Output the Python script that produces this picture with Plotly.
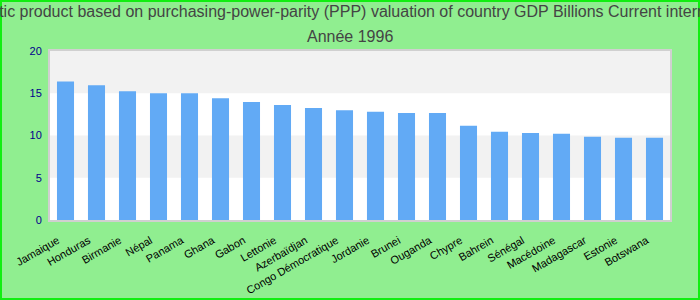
import plotly.graph_objects as go

countries = ["Jamaique", "Honduras", "Birmanie", "Népal", "Panama", "Ghana", "Gabon",
             "Lettonie", "Azerbaïdjan", "Congo Démocratique", "Jordanie", "Brunei",
             "Ouganda", "Chypre", "Bahrein", "Sénégal", "Macédoine", "Madagascar",
             "Estonie", "Botswana"]
values = [16.4, 15.95, 15.25, 15.0, 15.0, 14.4, 13.95, 13.6, 13.25, 13.0, 12.8, 12.66,
          12.66, 11.15, 10.43, 10.3, 10.2, 9.85, 9.73, 9.73]
y_ticks = [0, 5, 10, 15, 20]
title_line1 = ("Gross domestic product based on purchasing-power-parity (PPP) valuation of "
               "country GDP Billions Current international dollar")
title_line2 = "Année 1996"

L, R, T, B = 50, 30, 51, 80
W, H = 700, 300
pw, ph = W - L - R, H - T - B

fig = go.Figure(go.Bar(x=countries, y=values, marker_color="#62aaf5",
                       marker_line_width=0))

shapes = []
for lo, hi in [(5, 10), (15, 20)]:
    shapes.append(dict(type="rect", xref="paper", yref="y", x0=0, x1=1, y0=lo, y1=hi,
                       fillcolor="#f2f2f2", line_width=0, layer="below"))
shapes.append(dict(type="rect", xref="paper", yref="paper",
                   x0=-(L - 1) / pw, x1=(W - L - 1) / pw,
                   y0=-(B - 1) / ph, y1=(H - B - 1) / ph,
                   line=dict(color="#11ee11", width=2), fillcolor="rgba(0,0,0,0)"))

title_font = dict(family="Liberation Sans, Arial", size=16, color="#444444")
cx = (W / 2 - L) / pw
annotations = [
    dict(text=title_line1, xref="paper", yref="paper", x=cx,
         y=(H - B - 12) / ph, xanchor="center", yanchor="middle", showarrow=False,
         font=title_font),
    dict(text=title_line2, xref="paper", yref="paper", x=cx,
         y=(H - B - 36) / ph, xanchor="center", yanchor="middle", showarrow=False,
         font=title_font),
]

fig.update_layout(
    width=W, height=H,
    margin=dict(l=L, r=R, t=T, b=B, autoexpand=False),
    paper_bgcolor="#90ee90",
    plot_bgcolor="white",
    bargap=0.45,
    showlegend=False,
    shapes=shapes,
    annotations=annotations,
    font=dict(family="Liberation Sans, Arial"),
    xaxis=dict(tickangle=-30, tickfont=dict(size=11, color="black"), automargin=False,
               showline=True, linecolor="#d0d0d0", linewidth=2, mirror=True,
               showgrid=False, ticks="", ticklabelstandoff=8, ticklabelshift=-8),
    yaxis=dict(range=[0, 20], tickvals=y_ticks, tickfont=dict(size=11, color="#00008b"),
               automargin=False,
               showline=True, linecolor="#d0d0d0", linewidth=2, mirror=True,
               showgrid=False, zeroline=False, ticks="", ticklabelstandoff=4),
)

fig.write_html("out.html")
